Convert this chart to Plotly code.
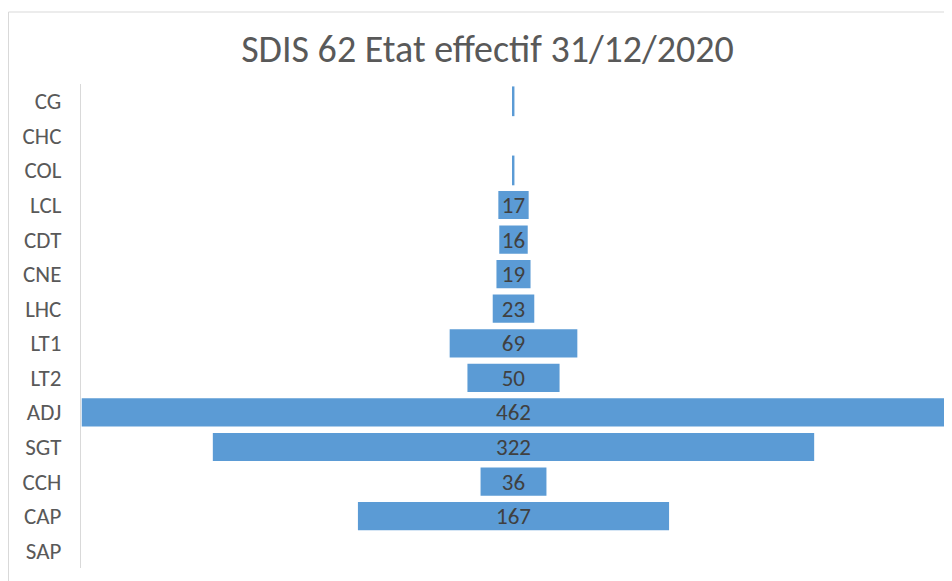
import plotly.graph_objects as go

categories = ["CG", "CHC", "COL", "LCL", "CDT", "CNE", "LHC", "LT1", "LT2", "ADJ", "SGT", "CCH", "CAP", "SAP"]
values = [1, 0, 1, 17, 16, 19, 23, 69, 50, 462, 322, 36, 167, 0]
labels = ["", "", "", "17", "16", "19", "23", "69", "50", "462", "322", "36", "167", ""]
title_text = "SDIS 62 Etat effectif 31/12/2020"

bases = [-v / 2 for v in values]
line_widths = [0 if v < 5 else 1.5 for v in values]

FONT = "Carlito, Liberation Sans, Arial, sans-serif"

# page body has an 8px default margin; figure is sized/offset to compensate
W, H = 944, 573

fig = go.Figure(go.Bar(
    y=categories,
    x=values,
    base=bases,
    orientation="h",
    marker=dict(color="#5b9bd5", line=dict(color="white", width=line_widths)),
    text=labels,
    textposition="inside",
    insidetextanchor="middle",
    textangle=0,
    constraintext="none",
    textfont=dict(family=FONT, size=23, color="#404040"),
    hoverinfo="y+x",
))

fig.update_layout(
    width=W, height=H,
    paper_bgcolor="white", plot_bgcolor="white",
    margin=dict(l=73, r=6, t=76, b=13),
    bargap=0.14,
    showlegend=False,
    title=dict(text=title_text, x=479.5 / W, xanchor="center", xref="container",
               y=1 - 41 / H, yanchor="middle", yref="container",
               font=dict(family=FONT, size=38, color="#595959")),
    xaxis=dict(range=[-231, 231], visible=False),
    yaxis=dict(autorange="reversed", showline=True, linecolor="#d9d9d9", linewidth=1,
               showgrid=False, zeroline=False, ticks="", ticklabelstandoff=14,
               tickfont=dict(family=FONT, size=23, color="#595959")),
    shapes=[dict(type="rect", xref="paper", yref="paper",
                 x0=(0.5 - 73) / 865, x1=1.2, y0=-0.2, y1=(560 - 4) / 484,
                 line=dict(color="#d9d9d9", width=1), fillcolor="rgba(0,0,0,0)", layer="below")],
)

fig.write_html("out.html")
